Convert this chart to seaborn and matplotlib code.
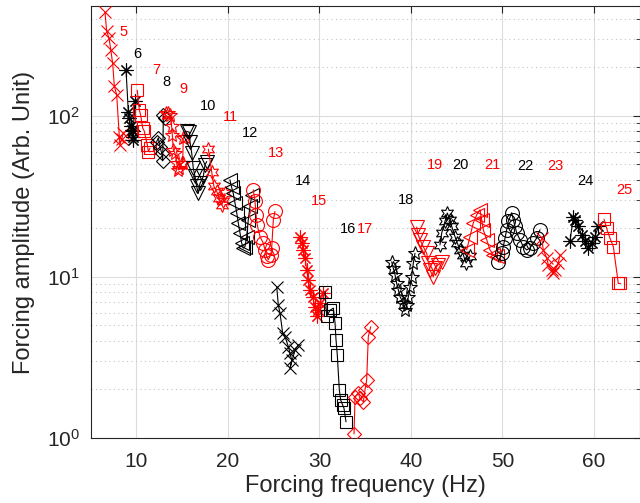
import numpy as np
import pandas as pd
import matplotlib
matplotlib.use("Agg")
import matplotlib.pyplot as plt
from matplotlib.ticker import LogLocator, FixedLocator, NullFormatter
import seaborn as sns

# ---- data (frequency in Hz, amplitude in arb. units) ----
freq_5 = [6.56, 6.75, 7.0, 7.19, 7.40, 7.58, 7.84, 8.13, 8.2, 8.39, 8.56]
amp_5 = [438, 334, 304, 257, 212, 153, 135, 74, 66, 72, 78]
freq_6 = [8.86, 9.11, 9.22, 9.37, 9.5, 9.59, 9.66, 9.59, 9.84]
amp_6 = [193, 106, 97, 86, 82, 80, 74, 71, 123]
freq_7 = [10.09, 10.31, 10.46, 10.68, 10.83, 11.19, 11.30, 11.49]
amp_7 = [144, 109, 101, 84, 81, 66, 60, 63]
freq_8 = [12.21, 12.39, 12.57, 12.76, 12.87, 12.94, 13.12]
amp_8 = [69, 73, 64, 58.6, 52.5, 101, 97]
freq_9 = [13.23, 13.48, 13.67, 13.85, 13.92, 14.03, 14.21, 14.40, 14.57, 14.68, 14.94, 15.05, 15.12, 15.3]
amp_9 = [104, 104, 101, 86, 76, 61.5, 58.6, 50.8, 46, 47.3, 50.8, 51, 73, 74]
freq_10 = [15.49, 15.78, 15.85, 16.04, 16.21, 16.4, 16.58, 16.76, 16.94, 17.31, 17.49, 17.68]
amp_10 = [80, 79, 69, 58.6, 47.3, 42, 36.4, 33, 38, 42, 49.6, 52]
freq_11 = [17.86, 18.22, 18.47, 18.77, 19.05, 19.32, 19.5, 19.68]
amp_11 = [62, 45, 36.4, 33.9, 30.8, 28, 29.5, 33]
freq_12 = [20.22, 20.4, 20.58, 20.77, 20.96, 21.13, 21.32, 21.5, 21.68, 21.86, 22.05, 22.22, 22.41, 22.6]
amp_12 = [40, 36, 33, 28.7, 25, 21.6, 18.7, 16.2, 15.1, 15.4, 17.8, 22.6, 27.4, 32]
freq_13 = [22.77, 22.96, 23.07, 23.2, 23.5, 23.86, 24.05, 24.23, 24.41, 24.67, 24.78, 24.96, 25.14]
amp_13 = [34.7, 29.4, 24.3, 21, 17.8, 16.2, 14.7, 13.4, 12.8, 13.7, 15.1, 22.6, 25.5]
freq_14 = [25.33, 25.5, 25.69, 25.98, 26.23, 26.6, 26.78, 26.97, 26.78, 27.33, 27.69]
amp_14 = [8.7, 6.7, 5.96, 4.47, 4.26, 3.69, 3.36, 3.05, 2.71, 3.52, 3.79]
freq_15 = [27.87, 28.06, 28.24, 28.42, 28.61, 28.78, 28.97, 29.26, 29.51, 29.7, 29.87, 30.06, 30.42]
amp_15 = [17.6, 16.2, 14.7, 13.1, 11.0, 9.6, 8.3, 7.55, 6.5, 5.7, 6.2, 6.9, 7.9]
freq_16 = [30.61, 30.79, 31.15, 31.52, 31.7, 31.81, 31.95, 32.17, 32.32, 32.54, 32.68, 32.9]
amp_16 = [8.1, 5.7, 6.2, 6.4, 5.2, 4.07, 3.28, 1.99, 1.72, 1.6, 1.53, 1.26]
freq_17 = [33.78, 33.89, 34.25, 34.43, 34.8, 34.98, 35.16, 35.34, 35.6]
amp_17 = [1.06, 1.8, 1.9, 1.76, 1.68, 1.99, 2.29, 4.26, 4.9]
freq_18 = [37.9, 38.07, 38.26, 38.44, 38.62, 38.8, 39.17, 39.35, 39.54, 39.72, 39.9, 40.08, 40.26, 40.44]
amp_18 = [12.4, 11.3, 10.3, 9.1, 8.3, 7.55, 6.9, 6.2, 6.7, 7.55, 8.7, 10.0, 12.2, 14.0]
freq_19 = [40.63, 40.8, 40.99, 41.35, 41.72, 41.9, 42.08, 42.44, 42.63, 42.99, 43.36]
amp_19 = [20.4, 18.2, 17, 15.4, 14.0, 12.2, 11.0, 10.0, 11.3, 11.9, 12.4]
freq_20 = [43.17, 43.36, 43.72, 43.97, 44.27, 44.45, 44.81, 45.07, 45.36, 45.72, 46.02, 46.45]
amp_20 = [15.8, 18.7, 22.1, 24.9, 22.6, 20.6, 17.8, 16.2, 14.7, 13.7, 12.2, 13.4]
freq_21 = [46.09, 46.45, 46.81, 47.19, 47.55, 47.73, 47.91, 48.28, 48.64, 49.0, 49.37]
amp_21 = [14.7, 17.8, 21.6, 24.3, 26.1, 22.6, 19.6, 17, 14.7, 13.7, 13.4]
freq_22 = [49.55, 49.92, 50.09, 50.28, 50.46, 50.64, 51.01, 51.19, 51.37, 51.56, 51.92, 52.28, 52.65, 53.01, 53.37, 53.74, 54.1]
amp_22 = [12.4, 14.0, 15.4, 17.4, 19.6, 22.1, 25.0, 22.6, 20.6, 18.7, 17, 15.4, 14.7, 15.1, 16.2, 17.4, 19.6]
freq_23 = [54.29, 54.46, 54.84, 55.01, 55.38, 55.56, 55.74, 56.1, 56.29]
amp_23 = [17.4, 14.7, 13.1, 11.9, 11.0, 10.5, 11.0, 12.2, 13.7]
freq_24 = [57.38, 57.74, 57.93, 58.29, 58.66, 59.02, 59.38, 59.75, 60.11, 60.48]
amp_24 = [16.6, 23.4, 22.6, 20.6, 18.2, 16.6, 15.1, 16.2, 17.8, 20.6]
freq_25 = [61.1, 61.39, 61.75, 62.12, 62.66, 62.9]
amp_25 = [22.8, 20, 17.4, 15.4, 9.1, 9.1]

series_ids = list(range(5, 26))
label_freq = [8.56, 10.09, 12.21, 13.23, 15.12, 17.79, 20.30, 22.41, 25.25, 28.23, 29.95,
              33.15, 34.98, 39.43, 42.66, 45.44, 48.93, 52.46, 55.82, 59.10, 63.29]
label_amp = [331, 242, 193, 163, 146, 115, 98, 78, 59, 39.4, 29.6,
             19.9, 19.9, 29.8, 49.4, 49.4, 49.4, 49.1, 49.1, 39.1, 34.7]

freqs = [freq_5, freq_6, freq_7, freq_8, freq_9, freq_10, freq_11, freq_12, freq_13,
         freq_14, freq_15, freq_16, freq_17, freq_18, freq_19, freq_20, freq_21,
         freq_22, freq_23, freq_24, freq_25]
amps = [amp_5, amp_6, amp_7, amp_8, amp_9, amp_10, amp_11, amp_12, amp_13,
        amp_14, amp_15, amp_16, amp_17, amp_18, amp_19, amp_20, amp_21,
        amp_22, amp_23, amp_24, amp_25]

# matlab marker cycle: x * s d p v h < o
marker_cycle = ['x', (8, 2, 0), 's', 'D', '*', 'v', (6, 1, 0), '<', 'o']
size_cycle = [8, 10, 8, 7, 10, 10, 10, 10, 10]

sns.set_style("white")
plt.rcParams['font.family'] = ['Liberation Sans', 'DejaVu Sans']
plt.rcParams['mathtext.fontset'] = 'custom'
plt.rcParams['mathtext.rm'] = 'Liberation Sans'

fig = plt.figure(figsize=(6.4, 5.03), dpi=100)
ax = fig.add_axes([90.7 / 640, 65 / 503, 549 / 640, 432 / 503])

for k, (sid, f, a) in enumerate(zip(series_ids, freqs, amps)):
    col = 'red' if sid % 2 == 1 else 'black'
    df = pd.DataFrame({'f': f, 'a': a})
    sns.lineplot(data=df, x='f', y='a', sort=False, estimator=None, ax=ax,
                 color=col, lw=0.8, marker=marker_cycle[k % 9],
                 markersize=size_cycle[k % 9], markerfacecolor='none',
                 markeredgecolor=col, markeredgewidth=0.8, zorder=3)

for sid, lx, ly in zip(series_ids, label_freq, label_amp):
    col = 'red' if sid % 2 == 1 else 'black'
    ax.text(lx, ly, str(sid), color=col, fontsize=10.5, ha='center', va='center')

ax.set_yscale('log')
ax.set_xlim(5, 65)
ax.set_ylim(1, 480)
ax.xaxis.set_major_locator(FixedLocator([10, 20, 30, 40, 50, 60]))
ax.yaxis.set_major_locator(LogLocator(base=10))
ax.yaxis.set_minor_locator(LogLocator(base=10, subs=np.arange(2, 10)))
ax.yaxis.set_minor_formatter(NullFormatter())

ax.set_axisbelow(True)
ax.grid(True, which='major', color='#dcdcdc', lw=0.8, ls='-')
ax.grid(True, which='minor', axis='y', color='#c4c4c4', lw=0.8, ls=(0, (1, 3)))
ax.grid(False, which='minor', axis='x')

ax.tick_params(which='both', direction='in', top=True, right=True,
               colors='#262626', labelsize=15, labelcolor='#262626')
ax.tick_params(which='major', length=5, width=0.8)
ax.tick_params(which='minor', length=3, width=0.6)
ax.tick_params(axis='x', pad=10)
ax.tick_params(axis='y', pad=8)
for sp in ax.spines.values():
    sp.set_color('#262626')
    sp.set_linewidth(0.8)

ax.set_xlabel('Forcing frequency (Hz)', fontsize=17, color='#262626', labelpad=3)
ax.set_ylabel('Forcing amplitude (Arb. Unit)', fontsize=17, color='#262626', labelpad=8)

fig.savefig('out.png', dpi=100)
